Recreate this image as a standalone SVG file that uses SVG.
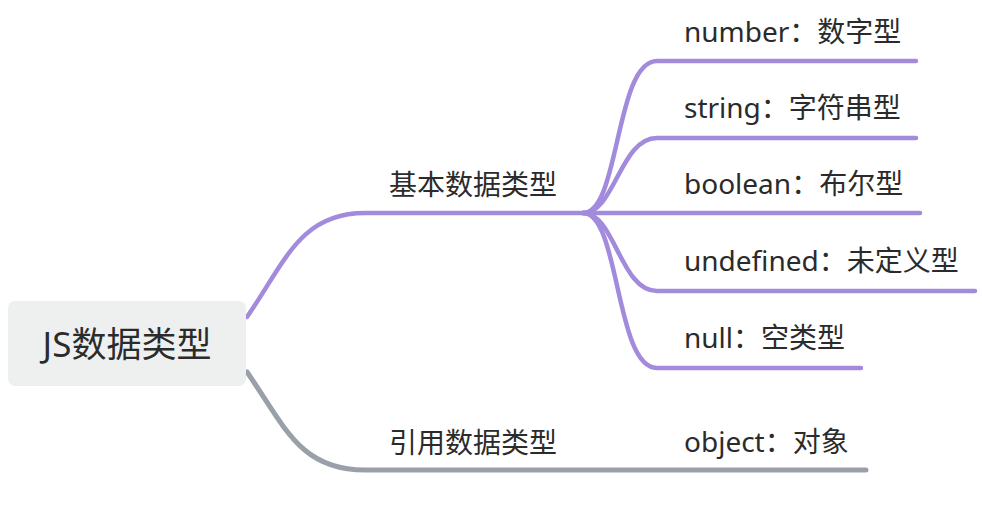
<svg xmlns="http://www.w3.org/2000/svg" width="982" height="516" viewBox="0 0 982 516">
<style>
text{font-family:"Noto Sans","Noto Sans CJK SC",sans-serif;fill:#2b2b2b}
.lbl{font-size:28px}
.p{fill:none;stroke:#a28bdc;stroke-width:4.5;stroke-linecap:round}
.g{fill:none;stroke:#99a0aa;stroke-width:5;stroke-linecap:round}
</style>
<rect width="982" height="516" fill="#ffffff"/>
<g id="connectors">
<path class="p" d="M247,317 C285,262 300,213 365,213 L583,213"/>
<path class="g" d="M247,372 C285,427 300,470 365,470 L866,470"/>
<path class="p" d="M583,213 C620,213 615,61 657,61 L916,61"/>
<path class="p" d="M583,213 C615,213 620,138 657,138 L916,138"/>
<path class="p" d="M583,213 L920,213"/>
<path class="p" d="M583,213 C615,213 620,291 657,291 L975,291"/>
<path class="p" d="M583,213 C620,213 615,368 657,368 L861,368"/>
</g>
<g id="root">
<rect x="8" y="301" width="238" height="85" rx="7" fill="#eef0f0"/>
<text x="127" y="357" font-size="35" text-anchor="middle">JS数据类型</text>
</g>
<g id="basic"><text class="lbl" x="389" y="195">基本数据类型</text></g>
<g id="ref"><text class="lbl" x="389" y="453">引用数据类型</text></g>
<g id="number"><text class="lbl" x="684" y="42">number：数字型</text></g>
<g id="string"><text class="lbl" x="684" y="118">string：字符串型</text></g>
<g id="boolean"><text class="lbl" x="684" y="194">boolean：布尔型</text></g>
<g id="undefined"><text class="lbl" x="684" y="271">undefined：未定义型</text></g>
<g id="null"><text class="lbl" x="684" y="348">null：空类型</text></g>
<g id="object"><text class="lbl" x="684" y="452">object：对象</text></g>
</svg>
